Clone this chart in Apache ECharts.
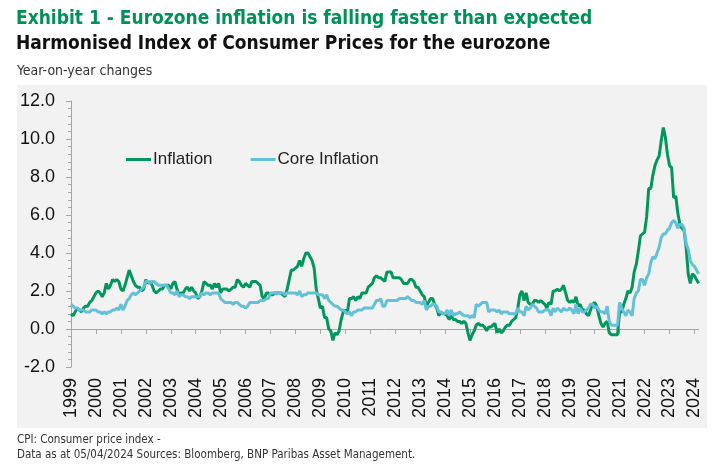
<!DOCTYPE html>
<html>
<head>
<meta charset="utf-8">
<script src="https://cdn.jsdelivr.net/npm/echarts@6/dist/echarts.min.js"></script>
<style>
html,body{margin:0;padding:0;background:#fff;}
#chart{width:725px;height:473px;}
</style>
</head>
<body>
<div id="chart"></div>
<script>
// Years shown on the axis (one category per month, Jan 1999 - Mar 2024)
var years = ['1999','2000','2001','2002','2003','2004','2005','2006','2007','2008','2009','2010','2011','2012','2013','2014','2015','2016','2017','2018','2019','2020','2021','2022','2023','2024'];
var lastYearMonths = 3;

// Headline HICP, y/y %, monthly
var inflation = [
  0.8, 0.7, 0.9, 1.1, 1.0, 0.9, 1.1, 1.2, 1.2, 1.4, 1.5, 1.7,
  1.9, 2.0, 1.9, 1.7, 1.9, 2.4, 2.1, 2.3, 2.6, 2.5, 2.6, 2.5,
  2.1, 2.0, 2.3, 2.7, 3.1, 2.8, 2.5, 2.3, 2.2, 2.2, 2.0, 2.1,
  2.6, 2.4, 2.5, 2.3, 2.0, 1.9, 2.0, 2.1, 2.1, 2.3, 2.3, 2.3,
  2.1, 2.4, 2.5, 2.1, 1.8, 1.9, 1.9, 2.1, 2.2, 2.0, 2.2, 2.0,
  1.9, 1.6, 1.7, 2.0, 2.5, 2.4, 2.3, 2.3, 2.1, 2.4, 2.2, 2.4,
  1.9, 2.1, 2.1, 2.1, 2.0, 2.1, 2.2, 2.2, 2.6, 2.5, 2.3, 2.2,
  2.4, 2.3, 2.2, 2.5, 2.5, 2.5, 2.4, 2.3, 1.7, 1.6, 1.9, 1.9,
  1.8, 1.8, 1.9, 1.9, 1.9, 1.9, 1.8, 1.7, 2.1, 2.6, 3.1, 3.1,
  3.2, 3.3, 3.6, 3.3, 3.7, 4.0, 4.0, 3.8, 3.6, 3.2, 2.1, 1.6,
  1.1, 1.2, 0.6, 0.6, 0.0, -0.1, -0.6, -0.2, -0.3, -0.1, 0.5, 0.9,
  1.0, 0.9, 1.6, 1.6, 1.7, 1.5, 1.7, 1.6, 1.9, 1.9, 1.9, 2.2,
  2.3, 2.4, 2.7, 2.8, 2.7, 2.7, 2.6, 2.5, 3.0, 3.0, 3.0, 2.7,
  2.7, 2.7, 2.7, 2.6, 2.4, 2.4, 2.4, 2.6, 2.6, 2.5, 2.2, 2.2,
  2.0, 1.8, 1.7, 1.2, 1.4, 1.6, 1.6, 1.3, 1.1, 0.7, 0.9, 0.8,
  0.8, 0.7, 0.5, 0.7, 0.5, 0.5, 0.4, 0.4, 0.3, 0.4, 0.3, -0.2,
  -0.6, -0.3, -0.1, 0.2, 0.3, 0.2, 0.2, 0.1, -0.1, 0.1, 0.1, 0.2,
  0.3, -0.2, 0.0, -0.2, -0.1, 0.1, 0.2, 0.2, 0.4, 0.5, 0.6, 1.1,
  1.8, 2.0, 1.5, 1.9, 1.4, 1.3, 1.3, 1.5, 1.5, 1.4, 1.5, 1.4,
  1.3, 1.1, 1.4, 1.3, 2.0, 2.0, 2.1, 2.0, 2.1, 2.3, 1.9, 1.5,
  1.4, 1.5, 1.4, 1.7, 1.2, 1.3, 1.0, 1.0, 0.8, 0.7, 1.0, 1.3,
  1.4, 1.2, 0.7, 0.3, 0.1, 0.3, 0.4, -0.2, -0.3, -0.3, -0.3, -0.3,
  0.9, 0.9, 1.3, 1.6, 2.0, 1.9, 2.2, 3.0, 3.4, 4.1, 4.9, 5.0,
  5.1, 5.9, 7.4, 7.4, 8.1, 8.6, 8.9, 9.1, 9.9, 10.6, 10.1, 9.2,
  8.6, 8.5, 6.9, 7.0, 6.1, 5.5, 5.3, 5.2, 4.3, 2.9, 2.4, 2.9,
  2.8, 2.6, 2.4
];

// Core HICP, y/y %, monthly
var coreInflation = [
  1.3, 1.2, 1.1, 1.1, 1.0, 1.0, 1.0, 0.9, 0.9, 0.9, 1.0, 1.0,
  1.0, 0.9, 0.9, 0.8, 0.9, 0.8, 0.9, 0.9, 1.0, 1.0, 1.1, 1.0,
  1.3, 1.0, 1.2, 1.5, 1.6, 1.8, 1.9, 1.8, 1.9, 2.0, 2.1, 2.2,
  2.5, 2.5, 2.4, 2.5, 2.5, 2.4, 2.3, 2.3, 2.3, 2.3, 2.3, 2.1,
  1.9, 1.9, 1.8, 2.0, 1.7, 1.8, 1.8, 1.7, 1.7, 1.6, 1.7, 1.7,
  1.7, 1.7, 1.7, 1.9, 1.8, 1.9, 1.9, 1.8, 1.9, 1.9, 1.9, 1.9,
  1.6, 1.5, 1.4, 1.4, 1.4, 1.4, 1.3, 1.4, 1.4, 1.3, 1.2, 1.2,
  1.1, 1.2, 1.4, 1.4, 1.4, 1.4, 1.4, 1.5, 1.5, 1.5, 1.6, 1.6,
  1.9, 1.9, 1.9, 1.9, 1.9, 1.9, 1.9, 1.8, 1.9, 1.9, 1.9, 1.9,
  1.9, 1.8, 2.0, 1.7, 1.8, 1.8, 1.9, 1.9, 1.9, 1.9, 1.9, 1.8,
  1.8, 1.8, 1.6, 1.8, 1.5, 1.4, 1.3, 1.2, 1.2, 1.1, 1.0, 1.0,
  0.9, 0.8, 0.9, 0.7, 0.9, 0.9, 1.0, 1.0, 1.0, 1.1, 1.1, 1.1,
  1.1, 1.1, 1.3, 1.5, 1.5, 1.6, 1.2, 1.2, 1.5, 1.5, 1.5, 1.5,
  1.5, 1.5, 1.6, 1.6, 1.6, 1.6, 1.7, 1.6, 1.5, 1.5, 1.4, 1.4,
  1.4, 1.3, 1.5, 1.0, 1.2, 1.2, 1.3, 1.3, 1.2, 0.9, 0.9, 0.8,
  0.8, 1.0, 0.7, 1.0, 0.7, 0.8, 0.8, 0.9, 0.8, 0.7, 0.7, 0.7,
  0.6, 0.7, 0.6, 1.3, 1.2, 1.3, 1.4, 1.4, 1.4, 0.9, 1.0, 1.0,
  1.0, 0.9, 1.0, 0.8, 0.9, 0.9, 0.9, 0.8, 0.8, 0.8, 0.8, 1.1,
  0.9, 0.9, 0.7, 1.2, 1.0, 1.1, 1.3, 1.2, 1.1, 0.9, 0.9, 0.9,
  1.0, 1.0, 1.0, 0.7, 1.1, 0.9, 1.1, 1.0, 0.9, 1.1, 1.0, 1.0,
  1.1, 1.0, 0.8, 1.3, 0.8, 1.1, 0.9, 0.9, 1.0, 1.1, 1.3, 1.3,
  1.1, 1.2, 1.0, 0.9, 0.9, 0.8, 1.2, 0.4, 0.2, 0.2, 0.2, 0.2,
  1.4, 1.1, 0.9, 0.7, 1.0, 0.9, 0.7, 1.6, 1.9, 2.0, 2.6, 2.6,
  2.3, 2.7, 2.9, 3.5, 3.8, 3.7, 4.0, 4.3, 4.8, 5.0, 5.0, 5.2,
  5.3, 5.6, 5.7, 5.6, 5.3, 5.5, 5.5, 5.3, 4.5, 4.2, 3.6, 3.4,
  3.3, 3.1, 2.9
];

var seriesNames = ['Inflation', 'Core Inflation'];

// month categories built from the year list
var months = [];
years.forEach(function (y, yi) {
  var n = (yi === years.length - 1) ? lastYearMonths : 12;
  for (var m = 1; m <= n; m++) months.push(y + '-' + (m < 10 ? '0' + m : m));
});

var narrow = '"Liberation Sans Narrow","DejaVu Sans Condensed",sans-serif';
var sans = '"Liberation Sans",Arial,sans-serif';
var yearTick = function (i) { return i % 12 === 0; };

var chart = echarts.init(document.getElementById('chart'));
chart.setOption({
  animation: false,
  backgroundColor: '#ffffff',
  graphic: [{
    type: 'rect', left: 17, top: 85, z: -10, silent: true,
    shape: { width: 690, height: 343 },
    style: { fill: '#f2f2f2' }
  }],
  title: [
    { text: 'Exhibit 1 - Eurozone inflation is falling faster than expected', left: 16, top: 10, padding: 0,
      textStyle: { fontFamily: narrow, fontSize: 19, fontWeight: 'bold', color: '#00915a' } },
    { text: 'Harmonised Index of Consumer Prices for the eurozone', left: 16, top: 35, padding: 0,
      textStyle: { fontFamily: narrow, fontSize: 19, fontWeight: 'bold', color: '#111111' } },
    { text: 'Year-on-year changes', left: 17, top: 64, padding: 0,
      textStyle: { fontFamily: narrow, fontSize: 14, fontWeight: 'normal', color: '#333333' } },
    { text: 'CPI: Consumer price index -', left: 17, top: 434, padding: 0,
      textStyle: { fontFamily: narrow, fontSize: 11.5, fontWeight: 'normal', color: '#333333' } },
    { text: 'Data as at 05/04/2024 Sources: Bloomberg, BNP Paribas Asset Management.', left: 17, top: 449, padding: 0,
      textStyle: { fontFamily: narrow, fontSize: 11.5, fontWeight: 'normal', color: '#333333' } }
  ],
  legend: {
    data: seriesNames, left: 121, top: 146, icon: 'rect', itemWidth: 25, itemHeight: 3, itemGap: 38,
    textStyle: { fontFamily: sans, fontSize: 17, color: '#222222', padding: [0, 0, 0, -3] }
  },
  grid: { left: 71, right: 26.4, top: 101, bottom: 106, containLabel: false },
  xAxis: [{
    type: 'category', data: months, boundaryGap: false, position: 'top',
    axisLine: { show: true, onZero: true, lineStyle: { color: '#a6a6a6', width: 1 } },
    axisTick: { show: true, inside: true, length: 5, interval: yearTick, lineStyle: { color: '#a6a6a6' } },
    axisLabel: { show: false },
    splitLine: { show: false }
  }, {
    type: 'category', data: months, boundaryGap: false, position: 'bottom',
    axisLine: { show: false, onZero: false },
    axisTick: { show: false },
    axisLabel: { show: true, interval: yearTick, rotate: 90, margin: 11,
      formatter: function (v) { return v.slice(0, 4); },
      fontFamily: sans, fontSize: 18, color: '#111111' },
    splitLine: { show: false }
  }],
  yAxis: {
    type: 'value', min: -2, max: 12, interval: 2,
    axisLine: { show: true, lineStyle: { color: '#a6a6a6' } },
    axisTick: { show: true, length: 5, lineStyle: { color: '#a6a6a6' } },
    minorTick: { show: true, splitNumber: 5, length: 3, lineStyle: { color: '#a6a6a6' } },
    splitLine: { show: false },
    axisLabel: { margin: 16, fontFamily: sans, fontSize: 18, color: '#111111',
      formatter: function (v) { return v.toFixed(1); } }
  },
  series: [{
    name: seriesNames[0], type: 'line', data: inflation, xAxisIndex: 0,
    showSymbol: false, symbol: 'none', color: '#00965e',
    lineStyle: { width: 3, color: '#00965e' }
  }, {
    name: seriesNames[1], type: 'line', data: coreInflation, xAxisIndex: 0,
    showSymbol: false, symbol: 'none', color: '#63c0d6',
    lineStyle: { width: 3, color: '#63c0d6' }
  }]
});
</script>
</body>
</html>
